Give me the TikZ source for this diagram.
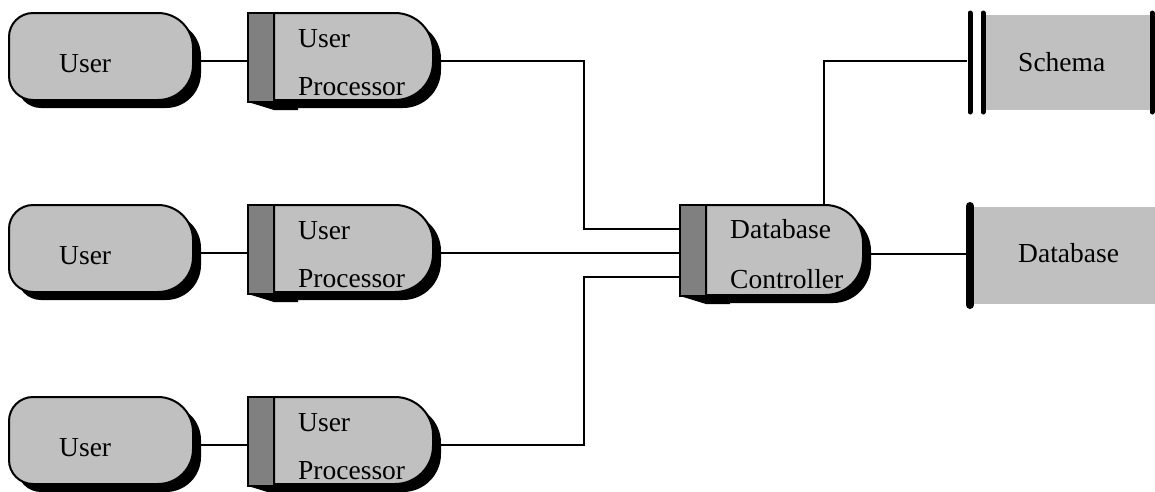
\documentclass[tikz,border=0pt]{standalone}
\usepackage{fontspec}
\setmainfont{Liberation Serif}
\usetikzlibrary{fit,calc}
\definecolor{lg}{RGB}{192,192,192}
\definecolor{dg}{RGB}{128,128,128}
\pgfdeclarelayer{lines}\pgfdeclarelayer{shapes}
\pgfsetlayers{lines,shapes,main}
\newcommand\bodypath[6]{({#1+#5},{-(#2)}) -- ({#3-#6},{-(#2)}) arc[start angle=90,end angle=0,radius=#6] -- (#3,{-(#4)+#6}) arc[start angle=0,end angle=-90,radius=#6] -- ({#1+#5},{-(#4)}) arc[start angle=270,end angle=180,radius=#5] -- (#1,{-(#2)-#5}) arc[start angle=180,end angle=90,radius=#5] -- cycle}
\newcommand\pillshape[7]{%
  \begin{pgfonlayer}{shapes}
    \fill[black,shift={(8,-8)}] \bodypath{#2}{#3}{#4}{#5}{#6}{#7};
    \filldraw[shapeline] \bodypath{#2}{#3}{#4}{#5}{#6}{#7};
  \end{pgfonlayer}
  \node[fitbox, fit={(#2,{-(#3)}) ({#4+8},{-(#5)-8})}] (#1) {};}
\newcommand\darkbar[5]{%
  \begin{pgfonlayer}{shapes}
    \fill[black] (#2,{-(#5)}) -- (#4,{-(#5)-8}) -- ({#4+24},{-(#5)-8}) -- ({#4+24},{-(#5)+2}) -- (#2,{-(#5)+2}) -- cycle;
    \filldraw[fill=dg,draw=black,line width=2] (#2,{-(#3)}) rectangle (#4,{-(#5)});
  \end{pgfonlayer}
  \node[fitbox, fit={(#2,{-(#3)}) (#4,{-(#5)-8})}] (#1) {};}
\begin{document}
\begin{tikzpicture}[x=1pt,y=1pt,
  shapeline/.style={fill=lg,draw=black,line width=2},
  fitbox/.style={inner sep=0pt,outer sep=0pt},
  conn/.style={line width=2,black},
  lbl/.style={inner sep=0pt,anchor=base west,font=\fontsize{27.5}{31}\selectfont},
  bar/.style={line width=5,line cap=round}]
\useasboundingbox (0,0) rectangle (1155,-491);
% rows
\foreach \r/\o in {1/0,2/192,3/384}{
  \pgfmathtruncatemacro\yT{13+\o}
  \pgfmathtruncatemacro\yB{100+\o}
  \pgfmathtruncatemacro\yD{102+\o}
  \pillshape{u\r}{9}{\yT}{193}{\yB}{24}{35}
  \pillshape{p\r}{274}{\yT}{433}{\yB}{0.01}{38}
  \darkbar{pd\r}{248}{\yT}{274}{\yD}
  \node[lbl] (tu\r) at (59,{-72-\o}) {User};
  \node[lbl] (tpa\r) at (298,{-47-\o}) {User};
  \node[lbl] (tpb\r) at (298,{-95-\o}) {Processor};
}
% controller
\pillshape{dc}{706}{205}{863}{295}{0.01}{38}
\darkbar{dcd}{680}{205}{706}{296}
\node[lbl] (tdc1) at (730,-238) {Database};
\node[lbl] (tdc2) at (730,-288) {Controller};
% schema and database
\begin{pgfonlayer}{shapes}
\fill[lg] (983,-15) rectangle (1152,-110);
\draw[bar] (970,-13) -- (970,-112);
\draw[bar] (983,-13) -- (983,-112);
\draw[bar] (1152,-13) -- (1152,-112);
\fill[lg] (970,-207) rectangle (1155,-304);
\draw[line width=8,line cap=round] (970,-206) -- (970,-305);
\end{pgfonlayer}
\node[fitbox,fit={(967,-10) (1155,-115)}] (sch) {};
\node[fitbox,fit={(966,-202) (1155,-307)}] (db) {};
\node[lbl] (tsch) at (1018,-71) {Schema};
\node[lbl] (tdb) at (1018,-262) {Database};
% connectors
\coordinate (j1) at (584,-229);
\coordinate (j3) at (584,-277);
\coordinate (s1) at (824,-61);
\begin{pgfonlayer}{lines}
\foreach \r in {1,2,3}{\draw[conn] (u\r.east) -- (u\r.east -| pd\r.west);}
\draw[conn] (p1.east) -| (j1) -- (j1 -| dcd.west);
\draw[conn] (p2.east) -- (p2.east -| dcd.west);
\draw[conn] (p3.east) -| (j3) -- (j3 -| dcd.west);
\draw[conn] (s1 |- dc.north) -- (s1) -- (s1 -| sch.west);
\draw[conn] (dc.east) -- (dc.east -| db.west);
\end{pgfonlayer}
\end{tikzpicture}
\end{document}
